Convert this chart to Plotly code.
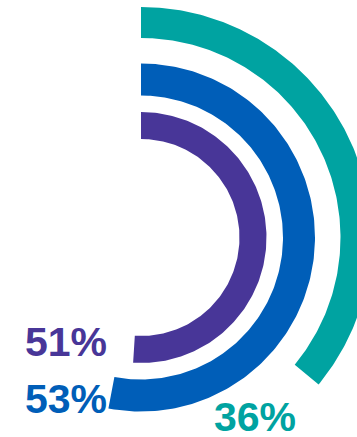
import numpy as np
import plotly.graph_objects as go

# Survey shares shown as concentric progress rings (outer to inner)
series_names = ["Teal group", "Blue group", "Purple group"]
series_values = [36, 53, 51]
series_colors = ["#00A3A1", "#005EB8", "#483698"]

# Ring geometry (outer radius, inner radius) in pixel-like units
ring_radii = [(230.5, 199.5), (174.0, 142.0), (125.5, 98.5)]

# Label anchor points and alignment for each ring
label_pos = [(113.5, -179.5, "center"), (-32, -161.5, "right"), (-32, -104.5, "right")]

W, H = 357, 437
CX, CY = 141, 237.5  # ring centre measured from the top-left corner

fig = go.Figure()

for name, val, col, (r_out, r_in) in zip(series_names, series_values, series_colors, ring_radii):
    sweep = np.deg2rad(val * 3.6)
    t = np.linspace(0, sweep, 200)
    xs = np.concatenate([r_out * np.sin(t), r_in * np.sin(t[::-1])])
    ys = np.concatenate([r_out * np.cos(t), r_in * np.cos(t[::-1])])
    xs = np.append(xs, xs[0])
    ys = np.append(ys, ys[0])
    fig.add_trace(go.Scatter(
        x=xs, y=ys, mode="lines", fill="toself",
        fillcolor=col, line=dict(width=0, color=col),
        name=name, hoverinfo="skip", showlegend=False,
    ))

for val, col, (lx, ly, align) in zip(series_values, series_colors, label_pos):
    xanchor = "right" if align == "right" else "center"
    fig.add_annotation(
        x=lx, y=ly, xref="x", yref="y", text=f"{val}%",
        showarrow=False, xanchor=xanchor, yanchor="middle",
        font=dict(family="Liberation Sans, Arial, sans-serif", size=41,
                  color=col, weight="bold"),
    )

fig.update_xaxes(range=[-CX, W - CX], visible=False, fixedrange=True)
fig.update_yaxes(range=[CY - H, CY], visible=False, fixedrange=True)
fig.update_layout(
    width=W, height=H,
    margin=dict(l=0, r=0, t=0, b=0),
    paper_bgcolor="white", plot_bgcolor="white",
    showlegend=False,
)

fig.write_html("out.html", config={"displayModeBar": False})
